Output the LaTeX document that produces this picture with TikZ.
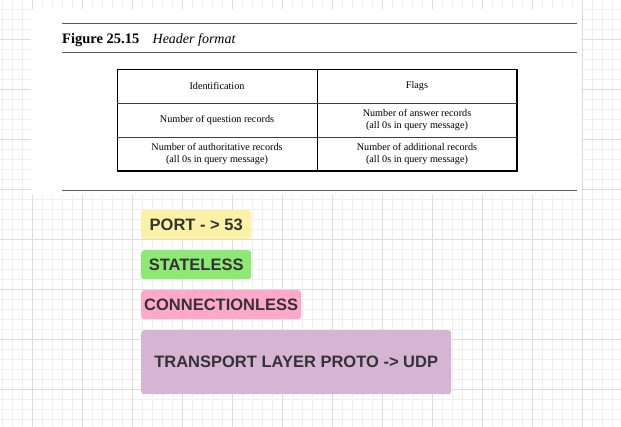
\documentclass[tikz,border=0pt]{standalone}
\usepackage{fontspec}
\setmainfont{Liberation Serif}
\newfontfamily\notefont{Liberation Sans}
\usetikzlibrary{positioning}
\definecolor{portclr}{HTML}{FBF2A6}
\definecolor{stateclr}{HTML}{8DE874}
\definecolor{connclr}{HTML}{FFA8C9}
\definecolor{protoclr}{HTML}{D6B4D3}
\definecolor{notetext}{HTML}{333333}
\definecolor{gridminor}{HTML}{EFEFEF}
\definecolor{gridmajor}{HTML}{DCDCDC}

\begin{document}
\begin{tikzpicture}[x=1pt, y=-1pt,
    note/.style={rounded corners=3pt, anchor=north west, inner sep=0pt, text=notetext,
                 font=\notefont\bfseries\fontsize{16.5}{19}\selectfont},
    cell/.style={align=center, font=\fontsize{10.2}{12.5}\selectfont},
    rule/.style={draw=black!65, line width=0.9pt}]
                \useasboundingbox (0,0) rectangle (621,427);
                \fill[white] (0,0) rectangle (621,427);

                % grid paper
                \foreach \x in {2,12,...,612}
                  \draw[gridminor, line width=0.8pt] (\x,0) -- (\x,427);
                \foreach \y in {9.5,19.5,...,419.5}
                  \draw[gridminor, line width=0.8pt] (0,\y) -- (621,\y);
                \foreach \x in {32,82,...,582}
                  \draw[gridmajor, line width=0.8pt] (\x,0) -- (\x,427);
                \foreach \y in {39.5,89.5,...,389.5}
                  \draw[gridmajor, line width=0.8pt] (0,\y) -- (621,\y);

                % scanned figure
                \fill[white] (31,9) rectangle (581,195);
                \draw[rule] (62,23) -- (577,23);
                \draw[rule] (62,52) -- (577,52);
                \draw[rule] (62,190) -- (577,190);
                \node[anchor=base west, inner sep=0pt, font=\bfseries\fontsize{14.5}{17}\selectfont] (title) at (62,44) {Figure 25.15};
                \node[base right=13pt of title, inner sep=0pt, font=\itshape\fontsize{14}{17}\selectfont] (caption) {Header format};

                \draw[line width=0.9pt] (117,69) rectangle (517,171);
                \draw[line width=2pt] (517,69) -- (517,171.5) -- (117,171.5);
                \draw[line width=0.8pt] (317,69) -- (317,171);
                \draw[line width=0.8pt, black!75] (117,103) -- (517,103);
                \draw[line width=0.8pt, black!75] (117,137) -- (517,137);

                \node[cell] (ident) at (217,86) {Identification};
                \node[cell] (flags) at (417,86) {Flags};
                \node[cell] (question) at (217,120) {Number of question records};
                \node[cell] (answer) at (417,120) {Number of answer records\\(all 0s in query message)};
                \node[cell] (authority) at (217,154) {Number of authoritative records\\(all 0s in query message)};
                \node[cell] (additional) at (417,154) {Number of additional records\\(all 0s in query message)};

                % sticky notes
                \node[note, fill=portclr, minimum width=110pt, minimum height=29pt] (port) at (141,210) {PORT - > 53};
                \node[note, fill=stateclr, minimum width=110pt, minimum height=29pt] (stateless) at (141,250) {STATELESS};
                \node[note, fill=connclr, minimum width=160pt, minimum height=29pt] (connless) at (141,290) {CONNECTIONLESS};
                \node[note, fill=protoclr, minimum width=310pt, minimum height=64pt] (proto) at (141,330) {TRANSPORT LAYER PROTO -> UDP};
            \end{tikzpicture}
\end{document}
